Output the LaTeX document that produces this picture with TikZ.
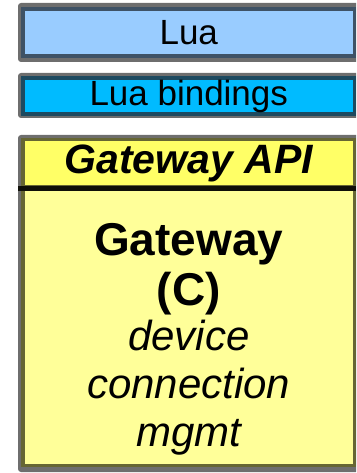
\documentclass[tikz,border=0pt]{standalone}
\usepackage{fontspec}
\setmainfont{Liberation Sans}
\definecolor{rimgray}{HTML}{6E6E6E}
\definecolor{luafill}{HTML}{99CCFF}
\definecolor{luaedge}{HTML}{3E5266}
\definecolor{bindfill}{HTML}{00BBFF}
\definecolor{bindedge}{HTML}{1D4A60}
\definecolor{apifill}{HTML}{FFFF66}
\definecolor{gwfill}{HTML}{FFFF99}
\definecolor{olive}{HTML}{666633}
\begin{document}
\begin{tikzpicture}[x=1pt,y=-1pt,
    rim/.style={fill=rimgray,rounded corners=3pt},
    layer/.style={draw,line width=3.5pt,inner sep=0pt,minimum width=331.5pt},
    sepline/.style={draw=black!85!olive,line width=5pt}]
    \useasboundingbox (0,0) rectangle (356,473);
    \clip (0,0) rectangle (356,473);
    % Lua
    \fill[rim] (18,3) rectangle (370,62);
    \node[layer,draw=luaedge,fill=luafill,minimum height=47.25pt,font=\fontsize{35}{40}\selectfont] (lua) at (188.75,32.4) {Lua};
    % bindings
    \fill[rim] (18,73) rectangle (370,118);
    \node[layer,draw=bindedge,fill=bindfill,minimum height=36pt,font=\fontsize{35}{40}\selectfont] (bind) at (188.75,96) {Lua bindings};
    % gateway
    \fill[rim] (18,135) rectangle (370,472);
    \node[layer,draw=olive,fill=apifill,minimum height=47pt,font=\fontsize{41}{45}\selectfont\bfseries\itshape] (api) at (188.75,163) {Gateway API};
    \node[layer,draw=olive,fill=gwfill,minimum height=279pt] (gw) at (188.75,326) {};
    \draw[sepline] (api.south west -| 18,0) -- (api.south east);
    \node[anchor=base,align=center,font=\fontsize{46}{50}\selectfont\bfseries] (gwname) at (188.75,305) {Gateway\\(C)};
    \node[anchor=base,align=center,font=\fontsize{42}{48}\selectfont\itshape] (gwtask) at (188.75,446) {device\\connection\\mgmt};
\end{tikzpicture}
\end{document}
